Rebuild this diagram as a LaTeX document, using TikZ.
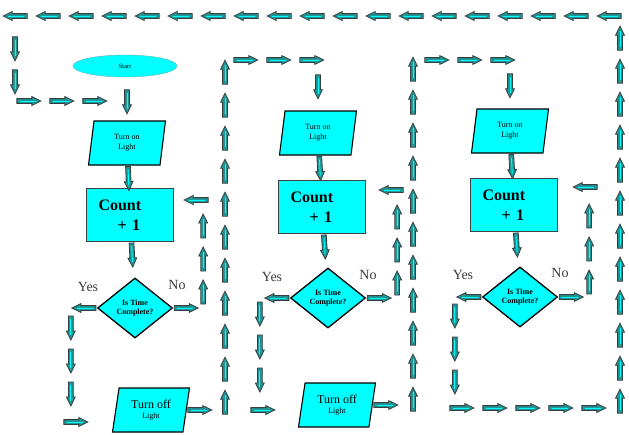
\documentclass[tikz,border=0pt]{standalone}
\usepackage{fontspec}
\setmainfont{Liberation Serif}
\usetikzlibrary{shapes.geometric,decorations.markings,calc}
\definecolor{boxcyan}{RGB}{0,255,255}
\definecolor{arrowteal}{RGB}{32,150,150}
\definecolor{arrowedge}{RGB}{55,60,60}
\definecolor{lblgray}{RGB}{60,60,60}
\newcommand{\blockarrow}{%
  \filldraw[fill=arrowteal, draw=arrowedge, line width=0.8pt, line join=miter]
    (-12pt,-2.4pt) -- (3pt,-2.4pt) -- (3pt,-4.4pt) -- (12pt,0pt)
    -- (3pt,4.4pt) -- (3pt,2.4pt) -- (-12pt,2.4pt) -- cycle;
  \draw[boxcyan, line width=0.9pt] (-9pt,0pt) -- (7pt,0pt);}
\tikzset{
  trail/.style={decorate, decoration={markings,
    mark=between positions 13pt and -8pt step 33pt with {\blockarrow}}},
  startoval/.style={ellipse, draw=teal!60, fill=boxcyan, minimum width=104pt,
    minimum height=22pt, inner sep=0pt, font=\fontsize{6.5}{7}\selectfont},
  io/.style={trapezium, trapezium left angle=72, trapezium right angle=108,
    trapezium stretches body, draw=black, line width=1.1pt, fill=boxcyan,
    minimum width=77pt, minimum height=44pt, inner sep=0pt, align=center,
    font=\fontsize{8}{10}\selectfont},
  proc/.style={rectangle, draw=black!75, line width=1pt, fill=boxcyan,
    minimum width=87pt, minimum height=53pt, inner xsep=12pt, text width=63pt,
    align=left, font=\fontsize{16}{20}\selectfont\bfseries},
  decision/.style={diamond, draw=black, line width=1.3pt, fill=boxcyan,
    minimum width=75pt, minimum height=60pt, inner sep=0pt, align=center,
    font=\fontsize{8}{9.5}\selectfont\bfseries},
  lbl/.style={text=lblgray, font=\fontsize{14}{16}\selectfont},
}
\begin{document}
\begin{tikzpicture}[x=1pt, y=-1pt]
  \useasboundingbox (0,0) rectangle (629,434);
  % ── start ─────────────────────────────────────────────────────────
  \node[startoval] (start) at (125,66) {Start};
  % ── first light ───────────────────────────────────────────────────
  \node[io] (on1) at (127,143) {Turn on\\Light};
  \node[proc] (cnt1) at (130,215) {Count\\\hspace*{1.2em}+ 1};
  \node[decision] (d1) at (135,308) {Is Time\\Complete?};
  \node[io] (off1) at (151,410) {{\fontsize{12}{13}\selectfont Turn off}\\Light};
  \node[lbl] (yes1) at (88,287) {Yes};
  \node[lbl] (no1) at (177,285) {No};
  % ── second light ──────────────────────────────────────────────────
  \node[io] (on2) at (318,133) {Turn on\\Light};
  \node[proc] (cnt2) at (322,207) {Count\\\hspace*{1.2em}+ 1};
  \node[decision] (d2) at (328,298) {Is Time\\Complete?};
  \node[io] (off2) at (337,405) {{\fontsize{12}{13}\selectfont Turn off}\\Light};
  \node[lbl] (yes2) at (272,277) {Yes};
  \node[lbl] (no2) at (368,275) {No};
  % ── third light ───────────────────────────────────────────────────
  \node[io] (on3) at (510,131) {Turn on\\Light};
  \node[proc] (cnt3) at (514,205) {Count\\\hspace*{1.2em}+ 1};
  \node[decision] (d3) at (520,297) {Is Time\\Complete?};
  \node[lbl] (yes3) at (463,275) {Yes};
  \node[lbl] (no3) at (560,273) {No};
  % ── corners of the long paths ─────────────────────────────────────
  \coordinate (top1) at (225,60);
  \coordinate (top2) at (413,60);
  \coordinate (loopbr) at (620,408);
  \coordinate (looptr) at (620,16);
  \coordinate (looptl) at (15,16);
  \coordinate (loopbl) at (15,101);
  % ── connectors ────────────────────────────────────────────────────
  \path[trail] (on1) -- (cnt1);
  \path[trail] (cnt1) -- (d1);
  \path[trail] (d1.west) -- ++(-26,0) |- ([yshift=-12pt]off1.west);
  \path[trail] (d1.east) -- ++(30,0) |- ([yshift=15pt]cnt1.east);
  \path[trail] (off1.east) -| (top1) -| (on2.north);
  \path[trail] (on2) -- (cnt2);
  \path[trail] (cnt2) -- (d2);
  \path[trail] (d2.west) -- ++(-30,0) |- ([yshift=-5pt]off2.west);
  \path[trail] (d2.east) -- ++(31,0) |- ([yshift=17pt]cnt2.east);
  \path[trail] (off2.east) -| (top2) -| (on3.north);
  \path[trail] (on3) -- (cnt3);
  \path[trail] (cnt3) -- (d3);
  \path[trail] (d3.east) -- ++(31,0) |- ([yshift=18pt]cnt3.east);
  \path[trail] (d3.west) -- ++(-27,0) |- (loopbr) -- (looptr)
    -- (looptl) -- (loopbl) -| (on1.north);
\end{tikzpicture}
\end{document}
